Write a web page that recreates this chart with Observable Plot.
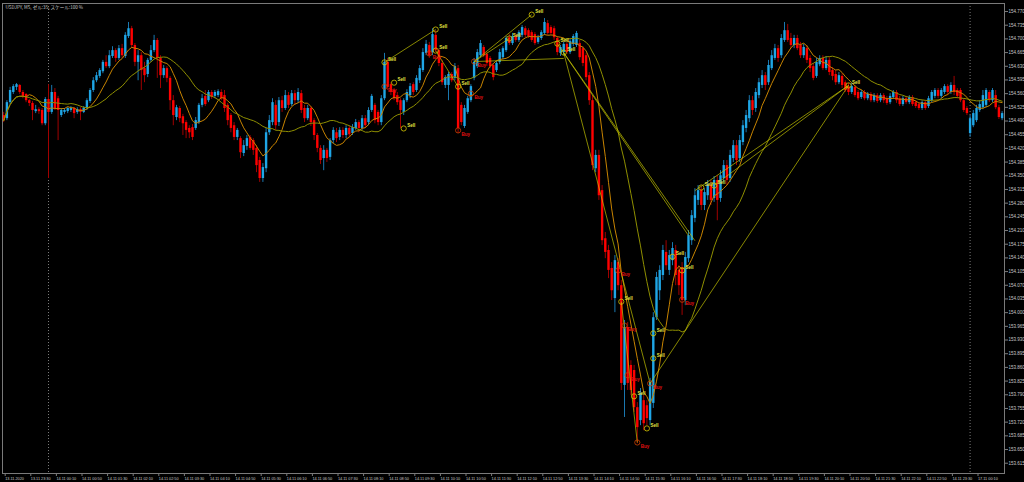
<!DOCTYPE html>
<html><head><meta charset="utf-8">
<script src="https://cdn.jsdelivr.net/npm/d3@7"></script>
<script src="https://cdn.jsdelivr.net/npm/@observablehq/plot@0.6"></script>
<style>html,body{margin:0;padding:0;background:#000;overflow:hidden}</style>
</head><body><div id="chart"></div>
<script>
const title = "USDJPY, M5, ゼル:35, スケール:100 %";

const opens = [
154.504,154.496,154.537,154.563,154.576,154.581,154.563,154.558,154.542,154.535,
154.514,154.519,154.517,154.483,154.545,154.512,154.563,154.547,154.504,154.512,
154.514,154.517,154.522,154.512,154.519,154.512,154.522,154.540,154.568,154.593,
154.604,154.616,154.640,154.629,154.655,154.670,154.650,154.675,154.655,154.706,
154.726,154.683,154.640,154.657,154.624,154.609,154.645,154.670,154.696,154.650,
154.606,154.624,154.599,154.542,154.499,154.522,154.501,154.486,154.471,154.473,
154.471,154.486,154.530,154.553,154.542,154.563,154.553,154.555,154.563,154.555,
154.530,154.504,154.478,154.448,154.445,154.407,154.425,154.448,154.440,154.420,
154.389,154.343,154.368,154.460,154.486,154.530,154.486,154.542,154.522,154.555,
154.532,154.560,154.542,154.560,154.522,154.496,154.522,154.491,154.453,154.420,
154.394,154.415,154.397,154.440,154.460,154.448,154.466,154.453,154.471,154.458,
154.471,154.486,154.471,154.496,154.486,154.517,154.530,154.512,154.486,154.547,
154.640,154.583,154.568,154.555,154.542,154.512,154.542,154.555,154.583,154.568,
154.593,154.619,154.663,154.683,154.665,154.709,154.670,154.637,154.581,154.581,
154.609,154.599,154.624,154.530,154.476,154.512,154.542,154.599,154.629,154.657,
154.678,154.660,154.650,154.632,154.619,154.640,154.652,154.670,154.703,154.688,
154.706,154.696,154.709,154.726,154.721,154.716,154.711,154.691,154.701,154.714,
154.739,154.729,154.726,154.701,154.663,154.665,154.686,154.665,154.686,154.683,
154.688,154.675,154.657,154.606,154.542,154.368,154.402,154.312,154.189,154.159,
154.113,154.036,154.128,154.069,153.814,153.962,153.865,153.852,153.757,153.724,
153.775,153.762,153.724,153.768,153.987,154.056,154.095,154.154,154.108,154.133,
154.159,154.108,154.115,154.031,154.138,154.184,154.241,154.287,154.312,154.274,
154.299,154.325,154.292,154.338,154.292,154.343,154.376,154.343,154.394,154.427,
154.394,154.435,154.471,154.496,154.542,154.522,154.555,154.581,154.606,154.588,
154.624,154.650,154.675,154.657,154.696,154.721,154.701,154.683,154.701,154.683,
154.657,154.675,154.650,154.629,154.604,154.634,154.650,154.624,154.645,154.619,
154.609,154.588,154.604,154.588,154.578,154.563,154.576,154.563,154.550,154.563,
154.547,154.558,154.542,154.555,154.542,154.555,154.547,154.537,154.550,154.563,
154.547,154.532,154.547,154.537,154.550,154.537,154.532,154.522,154.537,154.527,
154.542,154.553,154.568,154.553,154.563,154.578,154.563,154.581,154.568,154.568,
154.542,154.522,154.458,154.478,154.491,154.517,154.524,154.530,154.563,154.542,
154.555,154.524,154.496];

const highs = [
154.512,154.542,154.576,154.583,154.586,154.583,154.568,154.560,154.545,154.540,
154.530,154.524,154.522,154.550,154.583,154.581,154.573,154.553,154.522,154.522,
154.524,154.527,154.524,154.524,154.524,154.527,154.547,154.573,154.601,154.614,
154.624,154.645,154.657,154.670,154.680,154.675,154.683,154.686,154.716,154.742,
154.732,154.688,154.670,154.665,154.640,154.650,154.683,154.709,154.701,154.657,
154.632,154.629,154.604,154.555,154.530,154.527,154.507,154.491,154.478,154.481,
154.499,154.535,154.558,154.568,154.568,154.568,154.568,154.570,154.570,154.568,
154.535,154.509,154.486,154.471,154.450,154.440,154.453,154.453,154.445,154.427,
154.397,154.381,154.471,154.504,154.547,154.542,154.550,154.553,154.568,154.563,
154.568,154.568,154.573,154.568,154.530,154.530,154.527,154.496,154.458,154.427,
154.427,154.420,154.445,154.473,154.471,154.473,154.473,154.478,154.478,154.481,
154.494,154.491,154.504,154.504,154.524,154.558,154.535,154.517,154.555,154.663,
154.650,154.588,154.573,154.563,154.547,154.547,154.570,154.586,154.588,154.606,
154.632,154.675,154.696,154.691,154.726,154.721,154.675,154.645,154.606,154.614,
154.614,154.637,154.632,154.537,154.530,154.553,154.583,154.650,154.673,154.696,
154.683,154.665,154.655,154.637,154.642,154.673,154.680,154.706,154.711,154.714,
154.711,154.721,154.734,154.732,154.726,154.721,154.716,154.709,154.721,154.752,
154.747,154.734,154.732,154.706,154.683,154.691,154.691,154.698,154.711,154.719,
154.696,154.680,154.663,154.614,154.555,154.415,154.415,154.325,154.205,154.172,
154.128,154.146,154.138,154.082,153.980,153.975,153.877,153.865,153.770,153.806,
153.788,153.775,153.832,154.000,154.103,154.120,154.172,154.184,154.159,154.179,
154.172,154.120,154.128,154.154,154.210,154.261,154.317,154.325,154.322,154.317,
154.338,154.338,154.348,154.350,154.363,154.389,154.389,154.415,154.440,154.440,
154.453,154.491,154.517,154.555,154.553,154.573,154.599,154.619,154.614,154.645,
154.670,154.686,154.683,154.711,154.742,154.737,154.714,154.709,154.709,154.691,
154.686,154.683,154.657,154.637,154.650,154.657,154.657,154.655,154.652,154.627,
154.619,154.614,154.611,154.593,154.586,154.586,154.581,154.568,154.568,154.568,
154.563,154.563,154.560,154.560,154.560,154.560,154.553,154.560,154.568,154.568,
154.553,154.553,154.553,154.555,154.555,154.542,154.537,154.542,154.542,154.553,
154.568,154.573,154.573,154.573,154.583,154.583,154.588,154.604,154.573,154.573,
154.547,154.527,154.504,154.517,154.530,154.542,154.568,154.573,154.568,154.573,
154.568,154.530,154.514];

const lows = [
154.486,154.491,154.532,154.558,154.568,154.558,154.547,154.537,154.527,154.491,
154.509,154.507,154.478,154.478,154.343,154.507,154.517,154.440,154.499,154.507,
154.509,154.512,154.496,154.507,154.491,154.509,154.517,154.535,154.563,154.588,
154.599,154.611,154.624,154.624,154.650,154.640,154.645,154.650,154.650,154.701,
154.675,154.629,154.593,154.568,154.588,154.601,154.640,154.665,154.599,154.573,
154.599,154.588,154.517,154.478,154.491,154.486,154.453,154.445,154.445,154.440,
154.466,154.481,154.524,154.527,154.537,154.545,154.547,154.550,154.542,154.512,
154.478,154.460,154.440,154.440,154.394,154.399,154.415,154.415,154.402,154.358,
154.333,154.333,154.358,154.453,154.478,154.466,154.476,154.512,154.517,154.522,
154.527,154.530,154.535,154.509,154.486,154.491,154.476,154.440,154.409,154.379,
154.363,154.384,154.389,154.432,154.435,154.440,154.445,154.445,154.448,154.453,
154.466,154.460,154.466,154.471,154.478,154.512,154.483,154.478,154.478,154.542,
154.568,154.555,154.542,154.530,154.471,154.504,154.537,154.547,154.555,154.563,
154.586,154.614,154.657,154.650,154.657,154.665,154.629,154.581,154.573,154.542,
154.588,154.593,154.458,154.478,154.471,154.507,154.537,154.593,154.624,154.652,
154.652,154.629,154.624,154.593,154.614,154.634,154.647,154.665,154.683,154.683,
154.691,154.691,154.703,154.703,154.701,154.691,154.683,154.686,154.696,154.709,
154.709,154.709,154.696,154.657,154.655,154.657,154.660,154.660,154.680,154.678,
154.645,154.629,154.593,154.530,154.363,154.358,154.287,154.172,154.138,154.087,
154.031,154.000,154.056,153.801,153.732,153.801,153.788,153.745,153.665,153.711,
153.698,153.711,153.711,153.755,153.980,154.031,154.082,154.108,154.095,154.120,
154.069,154.044,153.993,154.018,154.128,154.172,154.230,154.274,154.261,154.261,
154.287,154.274,154.282,154.235,154.282,154.333,154.325,154.333,154.384,154.376,
154.384,154.427,154.460,154.486,154.504,154.512,154.547,154.573,154.568,154.581,
154.619,154.645,154.640,154.650,154.691,154.691,154.675,154.675,154.670,154.650,
154.650,154.637,154.614,154.593,154.599,154.629,154.619,154.619,154.606,154.593,
154.581,154.583,154.573,154.563,154.555,154.558,154.550,154.542,154.545,154.542,
154.542,154.537,154.537,154.535,154.537,154.535,154.530,154.532,154.545,154.535,
154.527,154.527,154.532,154.532,154.527,154.522,154.517,154.517,154.517,154.522,
154.537,154.547,154.547,154.547,154.558,154.555,154.558,154.555,154.547,154.537,
154.512,154.504,154.448,154.473,154.486,154.512,154.519,154.524,154.537,154.537,
154.519,154.494,154.491];

const closes = [
154.491,154.537,154.568,154.578,154.583,154.563,154.553,154.542,154.535,154.517,
154.519,154.514,154.483,154.545,154.512,154.563,154.522,154.517,154.517,154.517,
154.522,154.522,154.509,154.519,154.512,154.522,154.542,154.568,154.593,154.606,
154.619,154.640,154.629,154.657,154.670,154.650,154.675,154.657,154.709,154.726,
154.683,154.640,154.657,154.619,154.606,154.645,154.670,154.696,154.650,154.606,
154.624,154.599,154.542,154.504,154.524,154.496,154.483,154.466,154.460,154.448,
154.491,154.530,154.547,154.532,154.563,154.550,154.563,154.565,154.547,154.522,
154.491,154.471,154.448,154.466,154.409,154.427,154.445,154.420,154.415,154.376,
154.343,154.371,154.460,154.491,154.537,154.478,154.542,154.522,154.555,154.530,
154.560,154.542,154.563,154.517,154.496,154.522,154.486,154.453,154.420,154.389,
154.415,154.394,154.440,154.466,154.445,154.466,154.453,154.471,154.455,154.473,
154.486,154.471,154.496,154.478,154.517,154.553,154.491,154.486,154.547,154.640,
154.576,154.563,154.547,154.537,154.517,154.542,154.563,154.578,154.563,154.599,
154.624,154.665,154.686,154.657,154.711,154.670,154.637,154.588,154.601,154.609,
154.593,154.629,154.471,154.486,154.522,154.547,154.578,154.640,154.665,154.688,
154.657,154.637,154.629,154.601,154.637,154.665,154.675,154.701,154.688,154.706,
154.696,154.716,154.729,154.709,154.706,154.696,154.688,154.703,154.716,154.742,
154.714,154.714,154.703,154.665,154.678,154.686,154.665,154.693,154.706,154.714,
154.652,154.637,154.601,154.542,154.376,154.402,154.299,154.184,154.154,154.108,
154.056,154.133,154.069,153.819,153.962,153.819,153.801,153.757,153.706,153.793,
153.716,153.729,153.821,153.987,154.090,154.108,154.159,154.120,154.146,154.164,
154.095,154.069,154.031,154.141,154.197,154.248,154.299,154.312,154.274,154.307,
154.325,154.287,154.338,154.287,154.350,154.376,154.338,154.402,154.427,154.389,
154.440,154.478,154.504,154.542,154.517,154.563,154.588,154.606,154.581,154.632,
154.657,154.675,154.650,154.701,154.721,154.696,154.683,154.701,154.675,154.657,
154.678,154.645,154.624,154.599,154.640,154.650,154.624,154.645,154.614,154.604,
154.588,154.606,154.581,154.568,154.563,154.578,154.555,154.547,154.563,154.547,
154.558,154.542,154.555,154.540,154.555,154.542,154.535,154.553,154.563,154.542,
154.532,154.547,154.537,154.550,154.532,154.527,154.522,154.537,154.522,154.547,
154.563,154.568,154.553,154.568,154.578,154.563,154.581,154.563,154.553,154.542,
154.517,154.509,154.496,154.509,154.522,154.532,154.555,154.568,154.542,154.568,
154.524,154.499,154.509];

// trade markers (bar index, price)
const sellIdx = [119,122,125,135,135,142,158,165,173,175,193,197,201,203,203,209,212,218,222,264];
const sellPx  = [154.640,154.588,154.471,154.724,154.670,154.578,154.701,154.762,154.688,154.665,
                 154.028,153.786,153.704,153.947,153.883,154.143,154.108,154.320,154.325,154.581];
const buyIdx = [119,133,142,146,147,192,194,195,198,202,212];
const buyPx  = [154.578,154.663,154.466,154.560,154.642,154.108,153.967,153.840,153.668,153.819,154.033];
// trade connection lines
const lineFromIdx = [119,147,147,147,175,175,173,202,216,222,193,135];
const lineFromPx  = [154.640,154.642,154.642,154.642,154.665,154.665,154.688,153.819,154.312,154.325,154.028,154.670];
const lineToIdx   = [135,165,158,175,202,216,214,264,264,264,198,142];
const lineToPx    = [154.724,154.762,154.701,154.650,153.819,154.184,154.197,154.581,154.581,154.581,153.668,154.578];

const yTicks = [154.770,154.735,154.700,154.665,154.630,154.595,154.560,154.525,154.490,154.455,154.420,
  154.385,154.350,154.315,154.280,154.245,154.210,154.175,154.140,154.105,154.070,154.035,154.000,
  153.965,153.930,153.895,153.860,153.825,153.790,153.755,153.720,153.685,153.650,153.615];
const xTickIdx = [0,8,16,24,32,40,48,56,64,72,80,88,96,104,112,120,128,136,144,152,160,168,176,184,
  192,200,208,216,224,232,240,248,256,264,272,280,288,296,304];
const xTickLabels = ["13.11.2020","13.11 23:30","14.11 00:10","14.11 00:50","14.11 01:30","14.11 02:10",
  "14.11 02:50","14.11 03:30","14.11 04:10","14.11 04:50","14.11 05:30","14.11 06:10","14.11 06:50",
  "14.11 07:30","14.11 08:10","14.11 08:50","14.11 09:30","14.11 10:10","14.11 10:50","14.11 11:30",
  "14.11 12:10","14.11 12:50","14.11 13:30","14.11 14:10","14.11 14:50","14.11 15:30","14.11 16:10",
  "14.11 16:50","14.11 17:30","14.11 18:10","14.11 18:50","14.11 19:30","14.11 20:10","14.11 20:50",
  "14.11 21:30","14.11 22:10","14.11 22:50","14.11 23:30","17.11 00:10"];
const daySepIdx = [14, 302];

const bars = opens.map((o, i) => ({i, open: o, high: highs[i], low: lows[i], close: closes[i]}));
const sells = sellIdx.map((i, k) => ({i, p: sellPx[k]}));
const buys = buyIdx.map((i, k) => ({i, p: buyPx[k]}));
const links = lineFromIdx.map((i, k) => ({i1: i, p1: lineFromPx[k], i2: lineToIdx[k], p2: lineToPx[k]}));
const tickLabel = new Map(xTickIdx.map((d, k) => [d, xTickLabels[k]]));

const BODY_UP = "#1fa6e6", BODY_DN = "#ff0000", WICK_UP = "#1a78b0", WICK_DN = "#a00000";
const GRID = "#7a7a7a", TXT = "#c8c8c8";

const chart = Plot.plot({
  width: 1024, height: 482,
  marginLeft: 2, marginRight: 20, marginTop: 3, marginBottom: 9,
  style: {background: "#000", color: TXT, fontFamily: "'Liberation Sans', Arial, sans-serif", overflow: "visible"},
  x: {type: "linear", domain: [-0.375, 312.75], axis: null},
  y: {domain: [153.5887, 154.7905], axis: null},
  color: {type: "identity"},
  marks: [
    Plot.ruleX(daySepIdx, {stroke: GRID, strokeDasharray: "1,2", strokeWidth: 1}),
    Plot.ruleX(bars, {x: "i", y1: "low", y2: "high", stroke: d => d.close >= d.open ? WICK_UP : WICK_DN, strokeWidth: 1}),
    Plot.ruleX(bars, {x: "i", y1: "open", y2: "close", stroke: d => d.close >= d.open ? BODY_UP : BODY_DN, strokeWidth: 2.4}),
    Plot.lineY(bars, Plot.windowY({k: 8, anchor: "end"}, {x: "i", y: "close", stroke: "#c88400", strokeWidth: 1})),
    Plot.lineY(bars, Plot.windowY({k: 21, anchor: "end"}, {x: "i", y: "close", stroke: "#8f8f00", strokeWidth: 1})),
    Plot.link(links, {x1: "i1", y1: "p1", x2: "i2", y2: "p2", stroke: "#c8c800", strokeWidth: 0.8, strokeOpacity: 0.85}),
    Plot.dot(sells, {x: "i", y: "p", r: 2.6, stroke: "#d8c800", strokeWidth: 0.8}),
    Plot.text(sells, {x: "i", y: "p", text: () => "Sell", fill: "#e0e040", fontSize: 4.5, fontWeight: "bold", textAnchor: "start", dx: 3.5, dy: -3}),
    Plot.dot(buys, {x: "i", y: "p", r: 2.6, stroke: "#d04000", strokeWidth: 0.8}),
    Plot.text(buys, {x: "i", y: "p", text: () => "Buy", fill: "#e01010", fontSize: 4.5, fontWeight: "bold", textAnchor: "start", dx: 3.5, dy: 4}),
    Plot.frame({stroke: GRID}),
    Plot.axisY({anchor: "right", ticks: yTicks, tickFormat: d => d.toFixed(3), tickSize: 3, tickPadding: 1,
      fontSize: 4.5, stroke: GRID, fill: TXT, label: null}),
    Plot.axisX({anchor: "bottom", ticks: xTickIdx, tickFormat: d => tickLabel.get(d), tickSize: 3, tickPadding: 1,
      fontSize: 3.8, textAnchor: "start", dx: 1.5, stroke: GRID, fill: TXT, label: null}),
    Plot.text([title], {frameAnchor: "top-left", dx: 3, dy: 2, fontSize: 4.6, fill: TXT,
      fontFamily: "'Noto Sans CJK JP', sans-serif", textAnchor: "start", lineAnchor: "top"})
  ]
});
document.getElementById("chart").append(chart);
</script>
</body></html>
